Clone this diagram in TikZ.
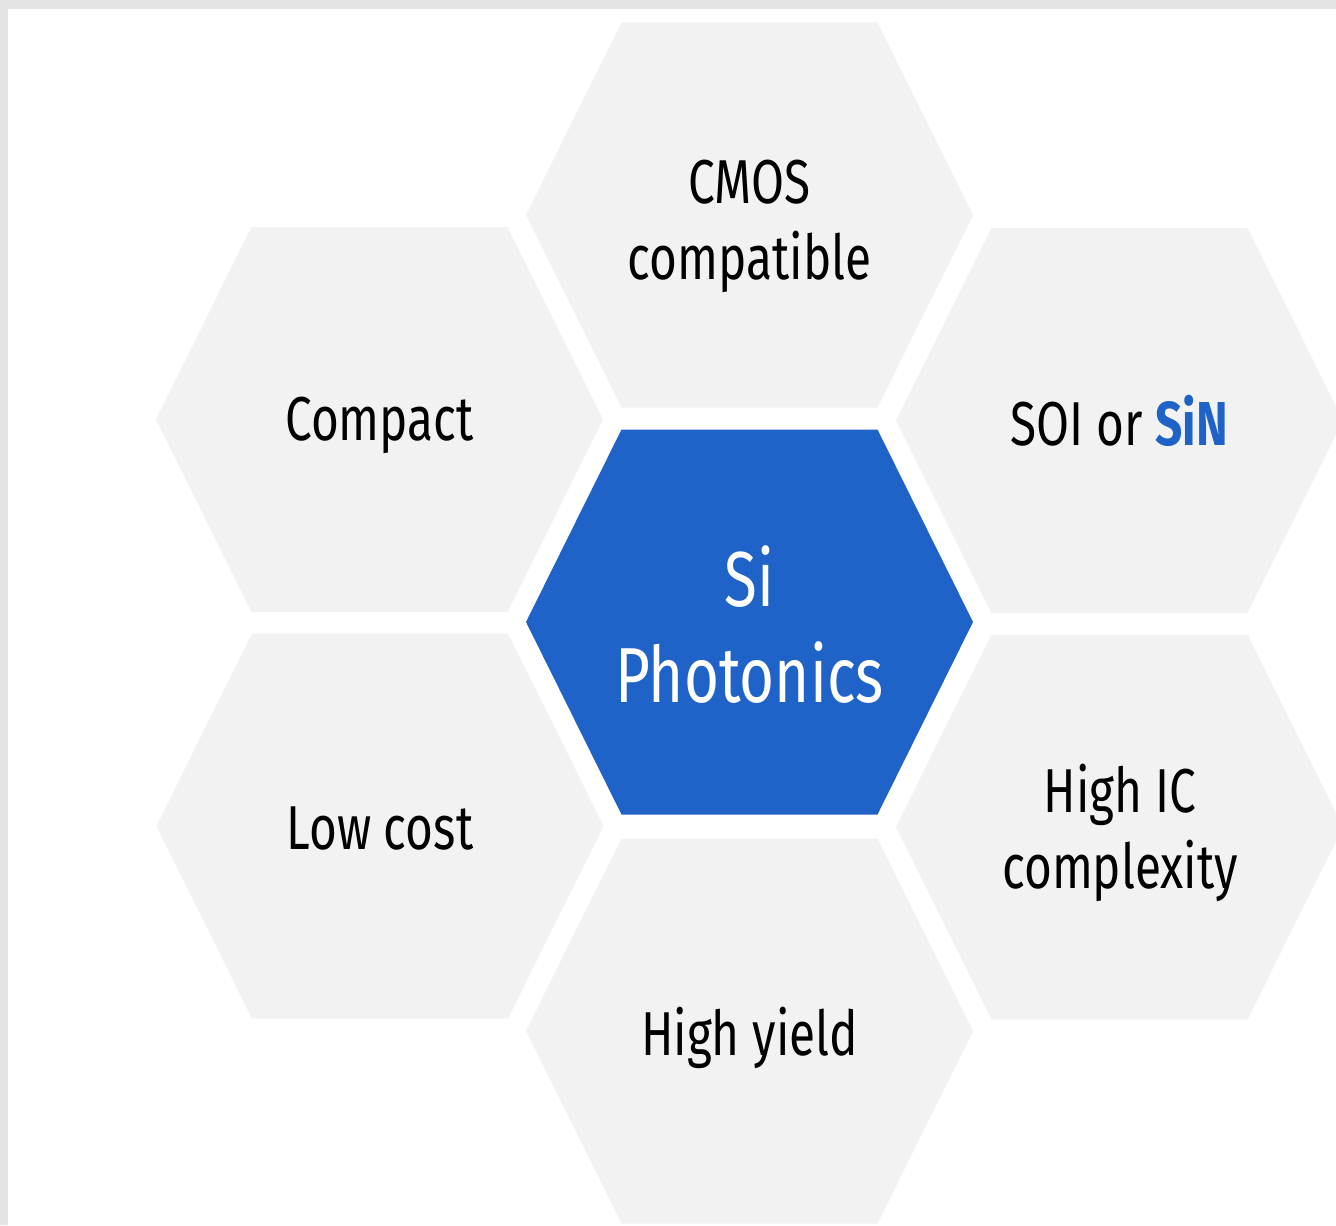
\documentclass[tikz,border=0pt]{standalone}
\usepackage{fontspec}
\setmainfont[FakeStretch=0.77]{Fira Sans}
\definecolor{hexgray}{HTML}{F2F2F2}
\definecolor{siblue}{HTML}{1F63C8}
\definecolor{framegray}{HTML}{E4E4E4}

\begin{document}
\begin{tikzpicture}[
    x=0.5pt, y=-0.5pt,
    celltext/.style={align=center, inner sep=0pt,
      font=\fontsize{31}{38}\selectfont},
    coretext/.style={celltext, text=white,
      font=\fontsize{39}{48}\selectfont},
  ]
  %% Canvas with its grey frame on top and left.
  \useasboundingbox (0,0) rectangle (1336,1225);
  \fill[framegray] (0,0) rectangle (1336,1225);
  \fill[white] (8,9) rectangle (1336,1225);
  \clip (8,9) rectangle (1336,1225);
  %% Hexagonal cells (flat top, pointed sides).
  \foreach \cx/\cy/\col in {749.5/622/siblue, 749.5/215/hexgray,
      379.5/419.5/hexgray, 1119.5/420.5/hexgray, 380/826/hexgray,
      1119.5/827/hexgray, 749.5/1031/hexgray}
    \fill[\col] (\cx-128,\cy-192.5) -- (\cx+128,\cy-192.5)
      -- (\cx+223.5,\cy) -- (\cx+128,\cy+192.5)
      -- (\cx-128,\cy+192.5) -- (\cx-223.5,\cy) -- cycle;
  %% Labels.
  \node[coretext] (core)    at (749.5,625)  {Si\\Photonics};
  \node[celltext] (cmos)    at (749.5,226)  {CMOS\\compatible};
  \node[celltext] (compact) at (379.5,425)  {Compact};
  \node[celltext] (soi)     at (1119.5,421) {SOI or \textcolor{siblue}{\bfseries SiN}};
  \node[celltext] (lowcost) at (380,829)    {Low cost};
  \node[celltext] (highic)  at (1120,833)   {High IC\\complexity};
  \node[celltext] (yield)   at (749.5,1038) {High yield};
\end{tikzpicture}
\end{document}
